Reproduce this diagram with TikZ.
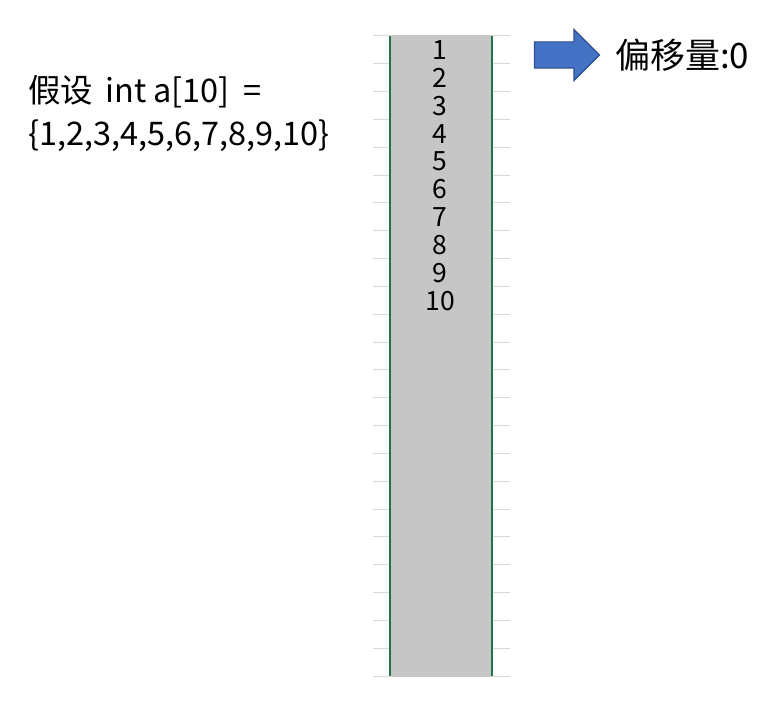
\documentclass[tikz,border=0pt]{standalone}
\usepackage{fontspec}
\setmainfont{Noto Sans CJK SC}
\usetikzlibrary{shapes.arrows}
\definecolor{cellgray}{HTML}{C6C6C6}
\definecolor{gridgray}{HTML}{D9D9D9}
\definecolor{xlgreen}{HTML}{217346}
\definecolor{arrowblue}{HTML}{4472C4}
\definecolor{arrowedge}{HTML}{2F528F}
\begin{document}
\begin{tikzpicture}[
    x=1pt, y=-1pt,
    every node/.style={align=center},
    cell/.style={font=\fontsize{26.5}{28}\selectfont, inner sep=0pt},
    bigtext/.style={font=\fontsize{32.5}{36}\selectfont, inner sep=0pt, anchor=base west},
    offsetarrow/.style={single arrow, draw=arrowedge, fill=arrowblue, line width=1.2pt,
        minimum height=65pt, minimum width=50pt, inner sep=0pt, inner ysep=12.5pt,
        single arrow head extend=12.5pt, single arrow head indent=0pt}
]
\useasboundingbox (0,0) rectangle (778,714);
% column of memory cells
\fill[cellgray] (390,36) rectangle (492,676);
\foreach \r in {0,...,23} {
    \draw[gridgray, line width=1pt] (373,36+\r*27.826) -- (510,36+\r*27.826);
    \draw[black!22, line width=1pt] (391,36+\r*27.826) -- (491,36+\r*27.826);
}
\draw[xlgreen, line width=2pt] (390,36) -- (390,676);
\draw[xlgreen, line width=2pt] (492,36) -- (492,676);
% values
\foreach \v in {1,...,10} {
    \node[cell] (v\v) at (440,36+\v*27.826-13.5) {\v};
}
% declaration
\node[bigtext] (decl) at (28,103) {假设\hspace{0.15em} int a[10]\hspace{0.2em} =};
\node[bigtext] (vals) at (28,146) {\{1,2,3,4,5,6,7,8,9,10\}};
% offset pointer
\node[offsetarrow] (ptr) at (560.5,55) {};
\node[font=\fontsize{35}{36}\selectfont, inner sep=0pt, anchor=west] (offset) at (615,55) {偏移量:0};
\end{tikzpicture}
\end{document}
